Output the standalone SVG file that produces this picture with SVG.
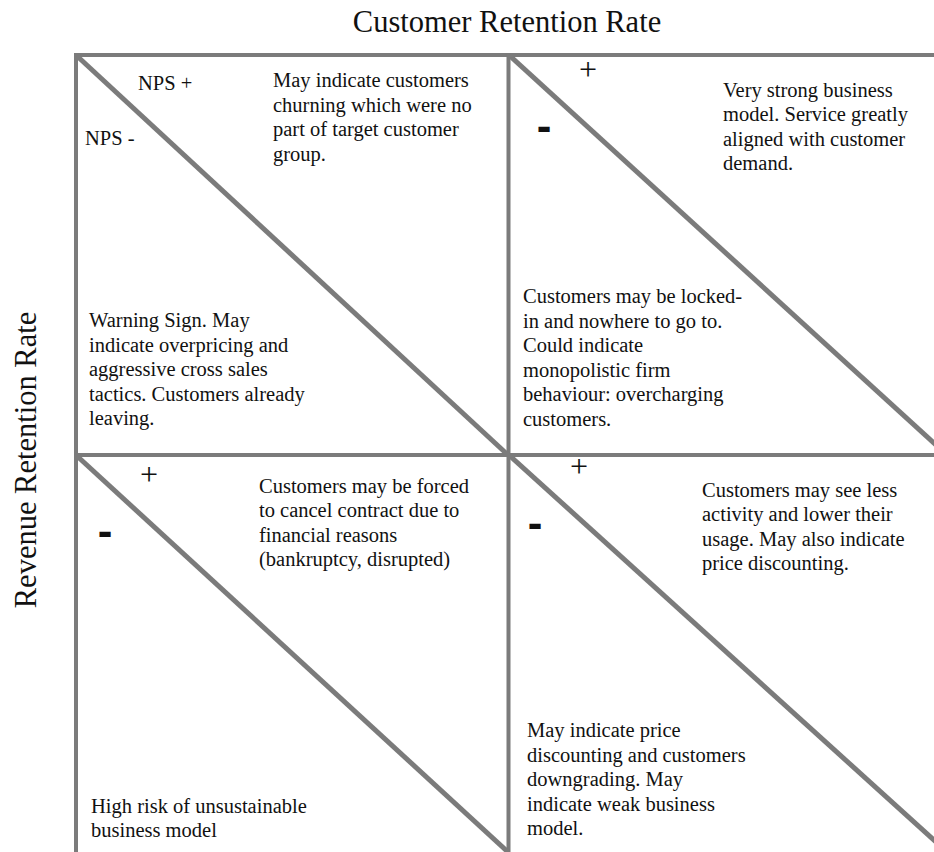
<svg xmlns="http://www.w3.org/2000/svg" width="934" height="852" viewBox="0 0 934 852">
<style>
.t{font-family:"Liberation Serif","Times New Roman",serif;font-size:20.5px;fill:#111}
.ax{font-family:"Liberation Serif","Times New Roman",serif;font-size:30.5px;fill:#111}
.pl{font-family:"Liberation Serif","Times New Roman",serif;font-size:32px;fill:#111}
.mi{font-family:"Liberation Sans",Arial,sans-serif;font-size:44px;font-weight:bold;fill:#111}
.g{stroke:#7b7b7b;stroke-width:4;fill:none}
.d{stroke:#7b7b7b;stroke-width:5;fill:none;stroke-linecap:butt}
</style>
<rect width="934" height="852" fill="#fff"/>
<g id="axes">
<text class="ax" x="507" y="32" text-anchor="middle">Customer Retention Rate</text>
<text class="ax" transform="translate(36,460) rotate(-90)" text-anchor="middle">Revenue Retention Rate</text>
</g>
<g id="connectors">
<line class="g" x1="74" y1="55" x2="934" y2="55"/>
<line class="g" x1="76" y1="53" x2="76" y2="852"/>
<line class="g" x1="508.5" y1="53" x2="508.5" y2="852"/>
<line class="g" x1="74" y1="455" x2="934" y2="455"/>
<line class="d" x1="77" y1="56" x2="508" y2="455"/>
<line class="d" x1="509" y1="55" x2="936" y2="445"/>
<line class="d" x1="77" y1="456" x2="508" y2="852"/>
<line class="d" x1="509" y1="455" x2="936" y2="842"/>
</g>
<g id="q1">
<text class="t" x="138" y="90">NPS +</text>
<text class="t" x="85" y="145">NPS -</text>
<text class="t" x="273" y="87">May indicate customers</text>
<text class="t" x="273" y="111.5">churning which were no</text>
<text class="t" x="273" y="136">part of target customer</text>
<text class="t" x="273" y="160.5">group.</text>
<text class="t" x="89" y="327">Warning Sign. May</text>
<text class="t" x="89" y="351.5">indicate overpricing and</text>
<text class="t" x="89" y="376">aggressive cross sales</text>
<text class="t" x="89" y="400.5">tactics. Customers already</text>
<text class="t" x="89" y="425">leaving.</text>
</g>
<g id="q2">
<text class="pl" x="588" y="80" text-anchor="middle">+</text>
<text class="mi" x="544" y="141" text-anchor="middle">-</text>
<text class="t" x="723" y="96.5">Very strong business</text>
<text class="t" x="723" y="121">model. Service greatly</text>
<text class="t" x="723" y="145.5">aligned with customer</text>
<text class="t" x="723" y="170">demand.</text>
<text class="t" x="523" y="303">Customers may be locked-</text>
<text class="t" x="523" y="327.5">in and nowhere to go to.</text>
<text class="t" x="523" y="352">Could indicate</text>
<text class="t" x="523" y="376.5">monopolistic firm</text>
<text class="t" x="523" y="401">behaviour: overcharging</text>
<text class="t" x="523" y="425.5">customers.</text>
</g>
<g id="q3">
<text class="pl" x="149" y="485" text-anchor="middle">+</text>
<text class="mi" x="105" y="546" text-anchor="middle">-</text>
<text class="t" x="259" y="492.5">Customers may be forced</text>
<text class="t" x="259" y="517">to cancel contract due to</text>
<text class="t" x="259" y="541.5">financial reasons</text>
<text class="t" x="259" y="566">(bankruptcy, disrupted)</text>
<text class="t" x="91" y="812.5">High risk of unsustainable</text>
<text class="t" x="91" y="837">business model</text>
</g>
<g id="q4">
<text class="pl" x="579" y="477" text-anchor="middle">+</text>
<text class="mi" x="535" y="538" text-anchor="middle">-</text>
<text class="t" x="702" y="496.5">Customers may see less</text>
<text class="t" x="702" y="521">activity and lower their</text>
<text class="t" x="702" y="545.5">usage. May also indicate</text>
<text class="t" x="702" y="570">price discounting.</text>
<text class="t" x="527" y="737">May indicate price</text>
<text class="t" x="527" y="761.5">discounting and customers</text>
<text class="t" x="527" y="786">downgrading. May</text>
<text class="t" x="527" y="810.5">indicate weak business</text>
<text class="t" x="527" y="835">model.</text>
</g>
</svg>
